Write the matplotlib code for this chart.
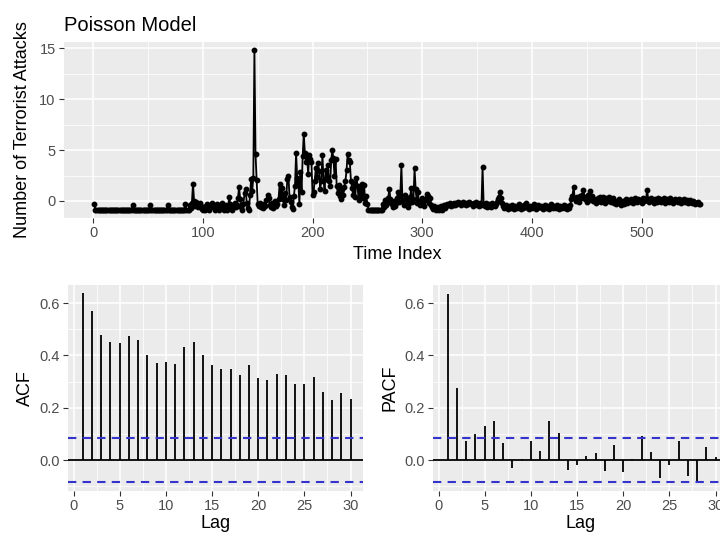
import numpy as np
import matplotlib
matplotlib.use("Agg")
import matplotlib.pyplot as plt

plt.rcParams['font.family'] = ['Liberation Sans', 'DejaVu Sans']

tramo_a = ([-0.3] + [-0.85] * 34 + [-0.35] + [-0.85] * 15 + [-0.4] + [-0.85] * 15
           + [-0.4] + [-0.85] * 15 + [-0.3] + [-0.85] * 3)
tramo_b = [-0.4, -0.7, -0.2, 1.7, 0.0, -0.5, -0.1, -0.3, -0.6, -0.2,
           -0.5, -0.8, -0.85, -0.6, -0.85, -0.5, -0.3, -0.7, -0.85, -0.5,
           -0.2, -0.6, -0.4, -0.85, -0.6, -0.3, -0.7, -0.85, -0.5, -0.2,
           -0.6, -0.85, -0.7, -0.4, -0.85, -0.6, 0.4, -0.3, -0.7, -0.85,
           -0.5, -0.2, -0.6, -0.4, 0.3, 1.4, 0.2, -0.6, -0.85, -0.3,
           0.8, 1.2, -0.2, -0.7, -0.85, 0.6, 2.2, 1.0, 2.3, 14.8]
tramo_c = [4.6, 2.1, -0.3, -0.5, -0.2, -0.6, -0.4, -0.7, -0.3, -0.5,
           0.1, 0.6, 0.3, -0.4, -0.6, -0.2, -0.7, -0.4, 0.0, -0.5,
           -0.3, 0.2, 1.7, 0.5, 1.3, 0.2, -0.4, 0.8, 0.1, 2.2,
           2.5, 0.4, -0.1, -0.6, -0.8, 0.5, 1.5, 4.7, 2.3, 1.9,
           -0.3, 2.8, 0.9, 4.4, 6.6, 4.7, 3.8, 4.5, 2.6, 4.5,
           4.1, 3.8, 0.6, 0.9, 2.0, 3.2, 2.4, 3.7, 2.9, 1.2,
           2.0, 4.5, 2.1, 1.0, 3.0, 2.4, 3.5, 2.0]
tramo_d = [1.5, 4.0, 5.0, 4.2, 2.5, 4.1, 1.5, 0.8, 1.6, 0.5,
           0.2, 1.2, 0.6, 1.4, 2.0, 3.0, 4.6, 4.0, 3.8, 2.0,
           1.3, 0.6, 1.8, 0.4, 2.3, 1.5, 0.1, 1.2, 0.6, 1.7,
           0.3, 1.6, -0.2, 0.5, -0.3, -0.85, -0.85]
tramo_e = [-0.85] * 11
tramo_f = [-0.3, -0.6, 0.1, -0.4, -0.2, 0.3, 1.2, 0.2, -0.3, -0.6,
           0.0, -0.5, -0.2, 0.3, 0.9, -0.1, 0.5, 3.5, 0.0, -0.4,
           0.6, 0.2, -0.3, -0.6, -0.2, 0.4, 1.3, -0.1, 0.2, 3.2,
           1.2, -0.2, 0.9, 0.0, -0.4, -0.1, 0.3, -0.3, -0.5, 0.1,
           0.7, 0.5, -0.2, 0.3, -0.4, -0.6, -0.8, -0.5, -0.7, -0.85,
           -0.6, -0.85, -0.7, -0.5, -0.85, -0.6, -0.4, -0.7, -0.5, -0.3,
           -0.4, -0.2, -0.5, -0.3, -0.4, -0.2, -0.4]
tramo_g = [-0.2, -0.3, -0.1, -0.2, -0.4, -0.2, -0.1, -0.3, -0.2, -0.4,
           -0.2, -0.3, -0.1, -0.2, -0.3, -0.5, -0.2, -0.3, -0.1, -0.4,
           -0.3, -0.5, -0.2, -0.4, 3.3, -0.3, -0.5, -0.2, -0.6, -0.4,
           -0.3, -0.5, -0.6, -0.2, -0.4, -0.5, -0.3, -0.1, 0.2, 0.4,
           0.9, 0.3, -0.2, -0.5, -0.7, -0.4, -0.6, -0.8, -0.5, -0.6,
           -0.7, -0.4, -0.6, -0.8, -0.5, -0.7, -0.6, -0.3, -0.6, -0.8,
           -0.5, -0.7, -0.4, -0.6, -0.2, -0.7, -0.8, -0.5, -0.6, -0.7,
           -0.5, -0.3, -0.6, -0.8, -0.7, -0.4, -0.6, -0.5, -0.7, -0.8,
           -0.6, -0.4, -0.7, -0.5, -0.6, -0.8, -0.3, -0.6, -0.7, -0.5,
           -0.6, -0.7, -0.4, -0.6, -0.8, -0.5, -0.7, -0.6, -0.4, -0.7,
           -0.5, -0.8, -0.6, -0.7, -0.4, 0.2, 0.5]
tramo_h = [1.4, 0.3, 0.0, 0.4, 0.2, -0.1, 0.5, 0.3, 0.6, 1.1,
           0.2, 0.4, -0.1, 0.6, 0.1, 1.0, 0.3, 0.5, 0.0, 0.2,
           -0.2, 0.1, 0.3, 0.0, 0.4, -0.1, 0.2, 0.4, 0.1, -0.2,
           0.3, 0.0, 0.4, 0.2, -0.1, 0.1, 0.3, -0.2, 0.0, -0.3,
           -0.1, 0.2, -0.2, -0.4, -0.1, 0.0, -0.3, -0.1, 0.2, -0.2,
           0.1, -0.1, 0.2, 0.0, -0.2, 0.1, 0.3, 0.0, -0.1, 0.2,
           0.0, 0.1, -0.2, 0.3, 0.0, 0.2, 0.1, 1.1, 0.2, -0.1,
           0.1, 0.3, 0.0, -0.2, 0.2, 0.1, -0.1, 0.3, 0.0, 0.2,
           -0.1, 0.1, 0.3, -0.2, 0.0, 0.2, 0.1, -0.1, 0.3, 0.0,
           0.1, -0.2, 0.2, 0.0, 0.1, -0.1, 0.2, 0.0, -0.2, 0.1,
           0.0, 0.2, -0.1, 0.1, -0.2, 0.0, 0.1, -0.1, -0.2, 0.0,
           -0.1, -0.3, -0.2, -0.1, -0.3, -0.3]
serie = tramo_a + tramo_b + tramo_c + tramo_d + tramo_e + tramo_f + tramo_g + tramo_h
indices = np.arange(1, len(serie) + 1)

# ACF y PACF por rezago
rezagos = np.arange(1, 31)
acf = [0.637, 0.570, 0.478, 0.452, 0.449, 0.473, 0.458, 0.402, 0.372, 0.376,
       0.367, 0.431, 0.452, 0.402, 0.365, 0.349, 0.348, 0.324, 0.363, 0.312,
       0.305, 0.329, 0.325, 0.289, 0.291, 0.317, 0.261, 0.231, 0.258, 0.232]
pacf = [0.635, 0.275, 0.072, 0.100, 0.130, 0.151, 0.066, -0.030, 0.003, 0.072,
        0.033, 0.148, 0.104, -0.036, -0.020, 0.015, 0.028, -0.042, 0.057, -0.046,
        0.006, 0.094, 0.032, -0.067, -0.020, 0.072, -0.061, -0.080, 0.050, 0.010]
limite = 1.96 / np.sqrt(len(serie))

fondo = '#EBEBEB'
gris_txt = '#4D4D4D'


def estilo_gg(ax, mayores_x, menores_x, mayores_y, menores_y):
    # imita theme_grey de ggplot2
    ax.set_facecolor(fondo)
    for s in ax.spines.values():
        s.set_visible(False)
    ax.set_xticks(mayores_x)
    ax.set_xticks(menores_x, minor=True)
    ax.set_yticks(mayores_y)
    ax.set_yticks(menores_y, minor=True)
    ax.grid(True, which='major', color='white', lw=1.1)
    ax.grid(True, which='minor', color='white', lw=0.55)
    ax.set_axisbelow(True)
    ax.tick_params(which='major', length=3.5, width=0.8, color='#333333',
                   labelcolor=gris_txt, labelsize=10.5, pad=2.5)
    ax.tick_params(which='minor', length=0)


fig = plt.figure(figsize=(7.2, 5.4), dpi=100)

# panel superior
ax1 = fig.add_axes([64 / 720, 1 - 218 / 540, 666 / 720, 176 / 540])
ax1.plot(indices, serie, color='black', lw=1.3, marker='o', ms=3.2, zorder=3)
ax1.set_xlim(-26.6, 580.6)
ax1.set_ylim(-1.67, 15.6)
estilo_gg(ax1, [0, 100, 200, 300, 400, 500], [50, 150, 250, 350, 450, 550],
          [0, 5, 10, 15], [2.5, 7.5, 12.5])
ax1.yaxis.set_major_formatter(matplotlib.ticker.FormatStrFormatter('%d'))
ax1.set_xlabel('Time Index', fontsize=13, labelpad=4)
ax1.set_ylabel('Number of Terrorist Attacks', fontsize=13, labelpad=6)
ax1.set_title('Poisson Model', fontsize=14.5, loc='left', pad=8)

# paneles ACF y PACF
for pos, valores, nombre in [(68, acf, 'ACF'), (433, pacf, 'PACF')]:
    ax = fig.add_axes([pos / 720, 1 - 491 / 540, 295 / 720, 206 / 540])
    ax.vlines(rezagos, 0, valores, color='black', lw=1.3, zorder=3)
    ax.axhline(0, color='black', lw=1.3, zorder=3)
    ax.axhline(limite, color='#3434cc', lw=1.5, ls=(0, (4, 3)), zorder=3)
    ax.axhline(-limite, color='#3434cc', lw=1.5, ls=(0, (4, 3)), zorder=3)
    ax.set_xlim(-0.6, 31.35)
    ax.set_ylim(-0.118, 0.669)
    estilo_gg(ax, [0, 5, 10, 15, 20, 25, 30], [2.5, 7.5, 12.5, 17.5, 22.5, 27.5],
              [0.0, 0.2, 0.4, 0.6], [-0.1, 0.1, 0.3, 0.5])
    ax.yaxis.set_major_formatter(matplotlib.ticker.FormatStrFormatter('%.1f'))
    ax.set_xlabel('Lag', fontsize=13, labelpad=1)
    ax.set_ylabel(nombre, fontsize=13, labelpad=4)

fig.savefig('out.png', dpi=100)
